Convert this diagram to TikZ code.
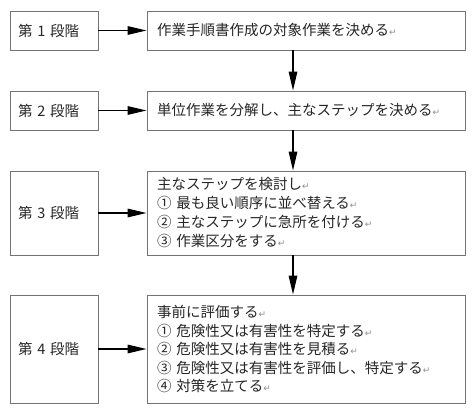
\documentclass[tikz,border=0pt]{standalone}
\usepackage{fontspec}
\setmainfont{Noto Sans CJK JP}
\newfontfamily\retfont{DejaVu Sans}
\usetikzlibrary{arrows.meta}
\newcommand{\ret}{{\retfont\fontsize{9}{9}\selectfont\textcolor{black!45}{↵}}}
\begin{document}
\begin{tikzpicture}[x=1pt,y=-1pt,
  stagebox/.style={draw=black!55,line width=0.9pt,minimum width=88pt,text width=72pt,align=left,inner xsep=8pt,
    font=\fontsize{14.5}{19}\selectfont,text=black!85,anchor=center},
  taskbox/.style={draw=black!55,line width=0.9pt,minimum width=318pt,text width=298pt,align=left,inner xsep=10pt,
    font=\fontsize{14.5}{19}\selectfont,text=black!85,anchor=center},
  flow/.style={line width=1.5pt,-{Triangle[length=19pt,width=8.5pt]}}]
\useasboundingbox (0,0) rectangle (474,419);
\node[stagebox,minimum height=39pt] (s1) at (54,30.5) {第 1 段階};
\node[stagebox,minimum height=39pt] (s2) at (54,110.5) {第 2 段階};
\node[stagebox,minimum height=84pt] (s3) at (54,213) {第 3 段階};
\node[stagebox,minimum height=108pt] (s4) at (54,349) {第 4 段階};
\node[taskbox,minimum height=39pt] (t1) at (306,30.5) {作業手順書作成の対象作業を決める\ret};
\node[taskbox,minimum height=39pt] (t2) at (306,110.5) {単位作業を分解し、主なステップを決める\ret};
\node[taskbox,minimum height=84pt] (t3) at (306,213) {主なステップを検討し\ret\\① 最も良い順序に並べ替える\ret\\② 主なステップに急所を付ける\ret\\③ 作業区分をする\ret};
\node[taskbox,minimum height=108pt,font=\fontsize{14.5}{18.5}\selectfont] (t4) at (306,349) {事前に評価する\ret\\① 危険性又は有害性を特定する\ret\\② 危険性又は有害性を見積る\ret\\③ 危険性又は有害性を評価し、特定する\ret\\④ 対策を立てる\ret};
\foreach \i in {1,2,3,4} {\draw[flow] (s\i.east) -- (t\i.west);}
\draw[flow] (t1.south -| 293,0) -- (t2.north -| 293,0);
\draw[flow] (t2.south -| 293,0) -- (t3.north -| 293,0);
\draw[flow] (t3.south -| 293,0) -- (t4.north -| 293,0);
\end{tikzpicture}
\end{document}
